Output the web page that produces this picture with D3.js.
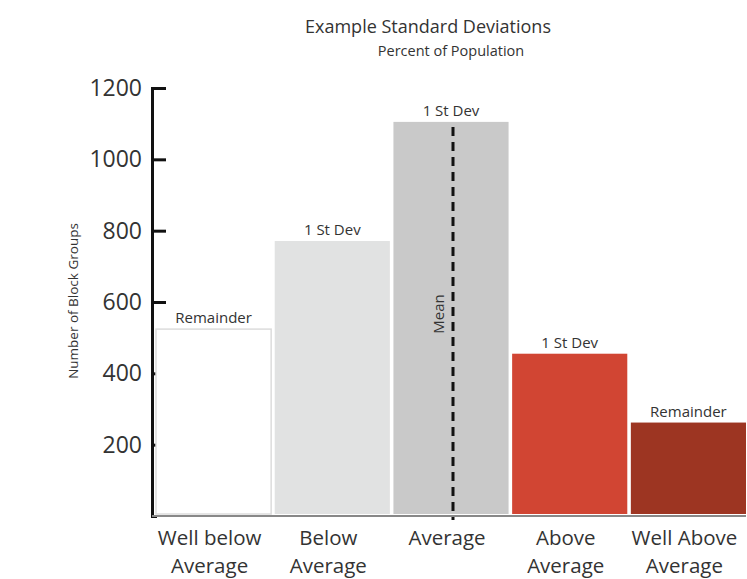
<!DOCTYPE html>
<html>
<head>
<meta charset="utf-8">
<script src="https://cdn.jsdelivr.net/npm/d3@7"></script>
<style>
  body { margin: 0; background: #fff; }
  text { font-family: "Open Sans", sans-serif; fill: #333; }
</style>
</head>
<body>
<div id="container"></div>
<script>
/* DATA */
const categories = ["Well below|Average", "Below|Average", "Average", "Above|Average", "Well Above|Average"];
const counts = [524, 771, 1105, 455, 262];
const barLabels = ["Remainder", "1 St Dev", "1 St Dev", "1 St Dev", "Remainder"];
const barColors = ["#ffffff", "#e1e2e2", "#c9c9c9", "#d14533", "#9d3522"];
const yTicks = [200, 400, 600, 800, 1000, 1200];
const meanCategory = "Average";

/* CONSTANTS */
const width = 747,
  height = 579,
  margin = { top: 88, right: 1, bottom: 63, left: 152 };

const svg = d3.select("#container")
  .append("svg")
  .attr("width", width)
  .attr("height", height);

// scales
const xScale = d3.scaleBand()
  .domain(categories)
  .range([margin.left + 4, width - margin.right])
  .paddingInner(0.03)
  .paddingOuter(0);

const yScale = d3.scaleLinear()
  .domain([0, 1200])
  .range([height - margin.bottom, margin.top]);

// titles
svg.append("text")
  .attr("x", 428)
  .attr("y", 33)
  .attr("text-anchor", "middle")
  .attr("font-size", 18)
  .text("Example Standard Deviations");

svg.append("text")
  .attr("x", 451)
  .attr("y", 56)
  .attr("text-anchor", "middle")
  .attr("font-size", 14.5)
  .text("Percent of Population");

// y axis (ticks point inwards)
const yAxis = d3.axisLeft(yScale)
  .tickValues(yTicks)
  .tickFormat(d3.format("d"))
  .tickSizeInner(-14)
  .tickSizeOuter(-5)
  .tickPadding(10);

const yAxisGroup = svg.append("g")
  .attr("class", "yAxis")
  .attr("transform", `translate(${margin.left}, 0)`)
  .call(yAxis);

yAxisGroup.select(".domain")
  .attr("stroke", "#111")
  .attr("stroke-width", 3);
yAxisGroup.selectAll(".tick line")
  .attr("stroke", "#111")
  .attr("stroke-width", 3);
yAxisGroup.selectAll(".tick text")
  .attr("font-family", "Open Sans, sans-serif")
  .attr("font-size", 23)
  .attr("fill", "#333");

svg.append("text")
  .attr("transform", `translate(78, 301) rotate(-90)`)
  .attr("text-anchor", "middle")
  .attr("font-size", 13.5)
  .text("Number of Block Groups");

// bars
svg.selectAll("rect.bar")
  .data(categories)
  .join("rect")
  .attr("class", "bar")
  .attr("x", d => xScale(d))
  .attr("y", (d, i) => yScale(counts[i]))
  .attr("width", xScale.bandwidth())
  .attr("height", (d, i) => yScale(0) - yScale(counts[i]) - 2)
  .attr("fill", (d, i) => barColors[i])
  .attr("stroke", (d, i) => i === 0 ? "#dcdcdc" : "none")
  .attr("stroke-width", 1.5);

// bar labels
svg.selectAll("text.barLabel")
  .data(categories)
  .join("text")
  .attr("class", "barLabel")
  .attr("x", d => xScale(d) + xScale.bandwidth() / 2)
  .attr("y", (d, i) => yScale(counts[i]) - 6)
  .attr("text-anchor", "middle")
  .attr("font-size", 15)
  .text((d, i) => barLabels[i]);

// bottom axis line
svg.append("line")
  .attr("x1", margin.left)
  .attr("x2", width - margin.right)
  .attr("y1", yScale(0))
  .attr("y2", yScale(0))
  .attr("stroke", "#888")
  .attr("stroke-width", 2);

// mean line
const meanX = xScale(meanCategory) + xScale.bandwidth() / 2 + 2;
const meanIdx = categories.indexOf(meanCategory);
svg.append("line")
  .attr("x1", meanX)
  .attr("x2", meanX)
  .attr("y1", yScale(counts[meanIdx]) + 5)
  .attr("y2", yScale(0) + 4)
  .attr("stroke", "#111")
  .attr("stroke-width", 3)
  .attr("stroke-dasharray", "9,6");

svg.append("text")
  .attr("transform", `translate(${meanX - 9}, 314) rotate(-90)`)
  .attr("text-anchor", "middle")
  .attr("font-size", 15)
  .text("Mean");

// category labels (two lines)
const catLabels = svg.selectAll("text.cat")
  .data(categories)
  .join("text")
  .attr("class", "cat")
  .attr("text-anchor", "middle")
  .attr("font-size", 20.5)
  .attr("transform", d => `translate(${xScale(d) + xScale.bandwidth() / 2 - 4}, 545)`);

catLabels.selectAll("tspan")
  .data(d => d.split("|"))
  .join("tspan")
  .attr("x", 0)
  .attr("dy", (d, i) => i === 0 ? 0 : 28)
  .text(d => d);
</script>
</body>
</html>
